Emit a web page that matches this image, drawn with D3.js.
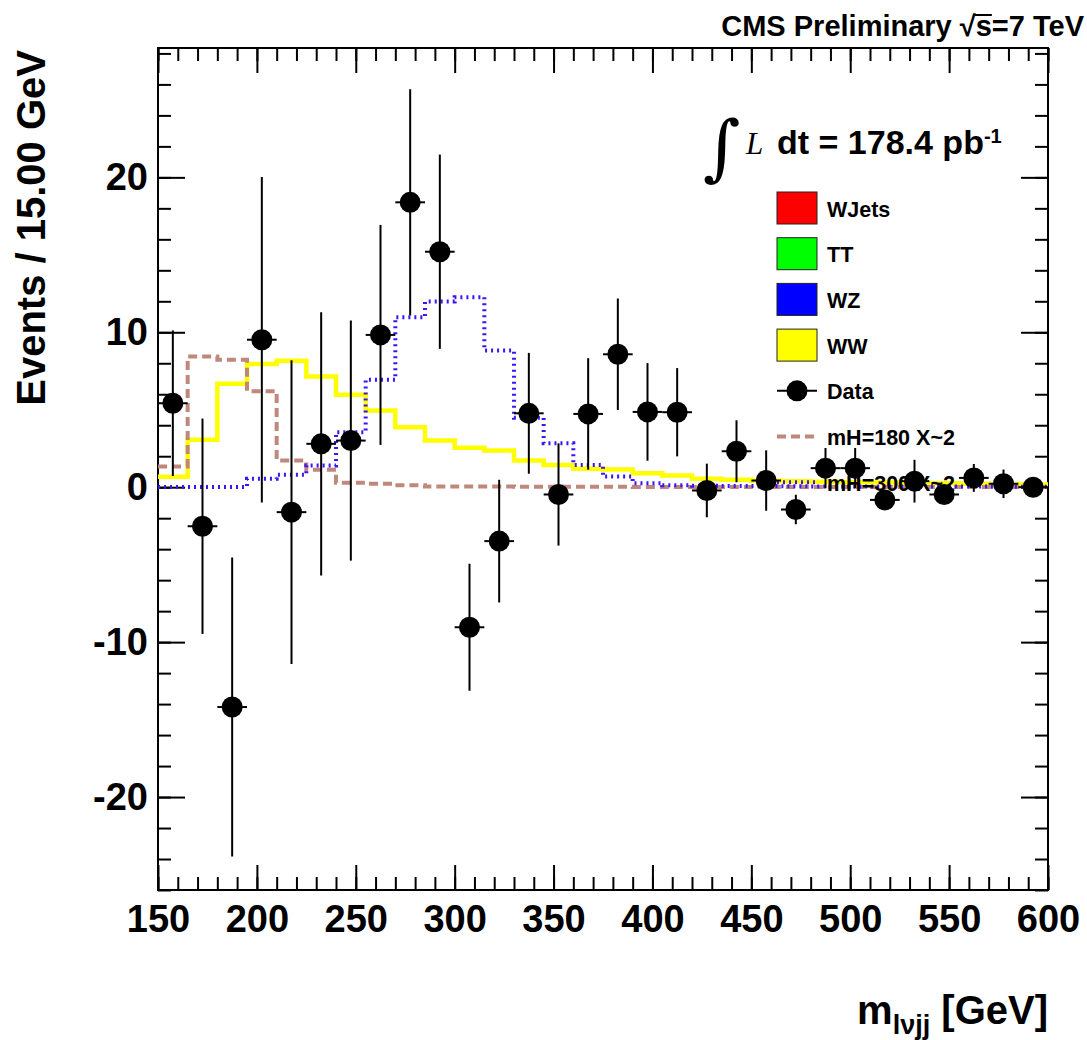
<!DOCTYPE html>
<html>
<head>
<meta charset="utf-8">
<script src="https://cdn.jsdelivr.net/npm/d3@7"></script>
<style>
body { margin: 0; background: #fff; }
text { font-family: "Liberation Sans", Arial, sans-serif; font-weight: bold; fill: #000; }
</style>
</head>
<body>
<script>
// bins of 15 GeV, 150 -> 600
var binLow = [150, 165, 180, 195, 210, 225, 240, 255, 270, 285, 300, 315, 330, 345, 360,
              375, 390, 405, 420, 435, 450, 465, 480, 495, 510, 525, 540, 555, 570, 585];
var binCenter = [157.5, 172.5, 187.5, 202.5, 217.5, 232.5, 247.5, 262.5, 277.5, 292.5,
                 307.5, 322.5, 337.5, 352.5, 367.5, 382.5, 397.5, 412.5, 427.5, 442.5,
                 457.5, 472.5, 487.5, 502.5, 517.5, 532.5, 547.5, 562.5, 577.5, 592.5];

// data points and their errors
var dataY = [5.42, -2.52, -14.19, 9.52, -1.61, 2.8, 3.01, 9.83, 18.39, 15.2,
             -9.04, -3.48, 4.77, -0.47, 4.73, 8.58, 4.86, 4.84, -0.21, 2.32,
             0.43, -1.44, 1.23, 1.23, -0.82, 0.39, -0.47, 0.6, 0.22, 0.0];
var dataErr = [4.7, 6.95, 9.65, 10.5, 9.8, 8.5, 7.75, 7.1, 7.3, 6.27,
               4.1, 3.96, 3.9, 3.3, 3.6, 3.6, 3.15, 2.85, 1.73, 2.0,
               1.95, 0.95, 1.3, 1.3, 0.5, 1.38, 0.5, 0.9, 0.92, 0.3];

// WW histogram
var ww = [0.67, 3.06, 6.67, 7.96, 8.17, 7.14, 5.96, 4.95, 3.87, 3.01,
          2.54, 2.37, 1.72, 1.44, 1.19, 1.15, 0.9, 0.75, 0.54, 0.48,
          0.42, 0.38, 0.35, 0.32, 0.3, 0.27, 0.25, 0.22, 0.2, 0.18];
// signal shapes
var mh180 = [1.34, 8.43, 8.22, 6.2, 1.72, 1.12, 0.28, 0.22, 0.12, 0.05,
             0.04, 0.04, 0.03, 0.03, 0.03, 0.03, 0.02, 0.02, 0.02, 0.02,
             0.02, 0.02, 0.02, 0.02, 0.02, 0.02, 0.02, 0.02, 0.02, 0.02];
var mh300 = [0.02, 0.02, 0.02, 0.54, 0.8, 1.4, 3.55, 6.93, 10.97, 11.98,
             12.26, 8.82, 4.48, 2.84, 1.44, 0.69, 0.26, 0.12, 0.1, 0.08,
             0.07, 0.06, 0.05, 0.05, 0.05, 0.04, 0.04, 0.04, 0.03, 0.03];

var xMajor = [150, 200, 250, 300, 350, 400, 450, 500, 550, 600];
var yMajor = [-20, -10, 0, 10, 20];

var legendItems = [
  {label: "WJets", type: "box", color: "#ff0000"},
  {label: "TT", type: "box", color: "#00ff00"},
  {label: "WZ", type: "box", color: "#0000ff"},
  {label: "WW", type: "box", color: "#ffff00"},
  {label: "Data", type: "marker"},
  {label: "mH=180 X~2", type: "dash"},
  {label: "mH=300 X~2", type: "dot"}
];

var svgWidth = 1087, svgHeight = 1040;
var frame = {left: 158, right: 1048, top: 48, bottom: 890};

var svg = d3.select("body").append("svg")
    .attr("width", svgWidth)
    .attr("height", svgHeight);

var x = d3.scaleLinear().domain([150, 600]).range([frame.left, frame.right]);
var y = d3.scaleLinear().domain([-26, 28.35]).range([frame.bottom, frame.top]);

var xMinor = d3.range(150, 601, 10);
var yMinor = d3.range(-26, 28.5, 2);

function styleAxis(g) {
  g.select(".domain").remove();
  g.selectAll(".tick line").attr("stroke", "#000").attr("stroke-width", 2);
  g.selectAll("text").style("font-size", "38px").attr("fill", "#000");
}
var plainNum = function(d) { return String(d); };

// minor ticks
svg.append("g").attr("transform", "translate(" + frame.left + ",0)")
  .call(d3.axisLeft(y).tickValues(yMinor).tickSize(-13).tickFormat("")).call(styleAxis);
svg.append("g").attr("transform", "translate(" + frame.right + ",0)")
  .call(d3.axisRight(y).tickValues(yMinor).tickSize(-13).tickFormat("")).call(styleAxis);
svg.append("g").attr("transform", "translate(0," + frame.bottom + ")")
  .call(d3.axisBottom(x).tickValues(xMinor).tickSize(-13).tickFormat("")).call(styleAxis);
svg.append("g").attr("transform", "translate(0," + frame.top + ")")
  .call(d3.axisTop(x).tickValues(xMinor).tickSize(-13).tickFormat("")).call(styleAxis);

// major ticks + labels
svg.append("g").attr("transform", "translate(" + frame.left + ",0)")
  .call(d3.axisLeft(y).tickValues(yMajor).tickSize(-27).tickPadding(10).tickFormat(plainNum))
  .call(styleAxis);
svg.append("g").attr("transform", "translate(" + frame.right + ",0)")
  .call(d3.axisRight(y).tickValues(yMajor).tickSize(-27).tickFormat("")).call(styleAxis);
svg.append("g").attr("transform", "translate(0," + frame.bottom + ")")
  .call(d3.axisBottom(x).tickValues(xMajor).tickSize(-25).tickPadding(15).tickFormat(plainNum))
  .call(styleAxis);
svg.append("g").attr("transform", "translate(0," + frame.top + ")")
  .call(d3.axisTop(x).tickValues(xMajor).tickSize(-25).tickFormat("")).call(styleAxis);

// frame
svg.append("rect")
  .attr("x", frame.left).attr("y", frame.top)
  .attr("width", frame.right - frame.left).attr("height", frame.bottom - frame.top)
  .attr("fill", "none").attr("stroke", "#000").attr("stroke-width", 2);

// step histograms
function stepPoints(vals) {
  var pts = vals.map(function(v, i) { return [binLow[i], v]; });
  pts.push([600, vals[vals.length - 1]]);
  return pts;
}
var stepLine = d3.line()
  .x(function(d) { return x(d[0]); })
  .y(function(d) { return y(d[1]); })
  .curve(d3.curveStepAfter);

svg.append("path").attr("d", stepLine(stepPoints(ww)))
  .attr("fill", "none").attr("stroke", "#ffff00").attr("stroke-width", 4.5);
svg.append("path").attr("d", stepLine(stepPoints(mh180)))
  .attr("fill", "none").attr("stroke", "#c0887c").attr("stroke-width", 4)
  .attr("stroke-dasharray", "9 5");
svg.append("path").attr("d", stepLine(stepPoints(mh300)))
  .attr("fill", "none").attr("stroke", "#3c14f5").attr("stroke-width", 4)
  .attr("stroke-dasharray", "2 4");

// legend: above the curves, under the data points
var legend = svg.append("g");
var legX = 777, legY0 = 208, legStep = 45.7;
legendItems.forEach(function(d, i) {
  var cy = legY0 + i * legStep;
  if (d.type === "box") {
    legend.append("rect").attr("x", legX).attr("y", cy - 16).attr("width", 40).attr("height", 32)
      .attr("fill", d.color).attr("stroke", "#222").attr("stroke-width", 1);
  } else if (d.type === "marker") {
    legend.append("line").attr("x1", legX).attr("x2", legX + 40).attr("y1", cy).attr("y2", cy)
      .attr("stroke", "#000").attr("stroke-width", 2);
    legend.append("circle").attr("cx", legX + 20).attr("cy", cy).attr("r", 10.5).attr("fill", "#000");
  } else if (d.type === "dash") {
    legend.append("line").attr("x1", legX).attr("x2", legX + 40).attr("y1", cy).attr("y2", cy)
      .attr("stroke", "#c0887c").attr("stroke-width", 4).attr("stroke-dasharray", "9 5");
  } else {
    legend.append("line").attr("x1", legX).attr("x2", legX + 40).attr("y1", cy).attr("y2", cy)
      .attr("stroke", "#3c14f5").attr("stroke-width", 4).attr("stroke-dasharray", "2 4");
  }
  legend.append("text").attr("x", 827).attr("y", cy + 8.5)
    .style("font-size", "21.5px").text(d.label);
});

// data points
var pts = svg.append("g").selectAll("g").data(binCenter).enter().append("g");
pts.append("line")
  .attr("x1", function(d) { return x(d); }).attr("x2", function(d) { return x(d); })
  .attr("y1", function(d, i) { return y(dataY[i] + dataErr[i]); })
  .attr("y2", function(d, i) { return y(dataY[i] - dataErr[i]); })
  .attr("stroke", "#000").attr("stroke-width", 2);
pts.append("line")
  .attr("x1", function(d) { return Math.max(x(d - 7.5), frame.left); })
  .attr("x2", function(d) { return x(d + 7.5); })
  .attr("y1", function(d, i) { return y(dataY[i]); })
  .attr("y2", function(d, i) { return y(dataY[i]); })
  .attr("stroke", "#000").attr("stroke-width", 2);
pts.append("circle")
  .attr("cx", function(d) { return x(d); })
  .attr("cy", function(d, i) { return y(dataY[i]); })
  .attr("r", 10.5).attr("fill", "#000");

// title
var titleStr = "CMS Preliminary \u221As=7 TeV";
var title = svg.append("text").attr("x", 1084).attr("y", 36)
  .attr("text-anchor", "end").style("font-size", "29px")
  .text(titleStr);
var sIdx = "CMS Preliminary \u221A".length;
var ext = title.node().getExtentOfChar(sIdx);
var rootExt = title.node().getExtentOfChar(sIdx - 1);
svg.append("line")
  .attr("x1", rootExt.x + rootExt.width - 2).attr("x2", ext.x + ext.width)
  .attr("y1", rootExt.y + 5).attr("y2", rootExt.y + 5)
  .attr("stroke", "#000").attr("stroke-width", 2);

// luminosity
svg.append("text").attr("x", 703).attr("y", 172)
  .style("font-family", "'DejaVu Serif', serif").style("font-weight", "normal")
  .style("font-size", "72px").text("\u222B");
svg.append("text").attr("x", 746).attr("y", 154)
  .style("font-family", "'Liberation Serif', serif").style("font-weight", "normal")
  .style("font-style", "italic").style("font-size", "31px").text("L");
var lumi = svg.append("text").attr("x", 777).attr("y", 154).style("font-size", "34px");
lumi.append("tspan").text("dt = 178.4 pb");
lumi.append("tspan").attr("dy", -11).style("font-size", "20px").text("-1");

// axis titles
svg.append("text")
  .attr("transform", "translate(45,50) rotate(-90)")
  .attr("text-anchor", "end").style("font-size", "40px")
  .text("Events / 15.00 GeV");

var xt = svg.append("text").attr("x", 1048).attr("y", 1024)
  .attr("text-anchor", "end").style("font-size", "40px");
xt.append("tspan").text("m");
xt.append("tspan").attr("dy", 10).style("font-size", "27px").text("l\u03BDjj");
xt.append("tspan").attr("dy", -10).text(" [GeV]");
</script>
</body>
</html>
